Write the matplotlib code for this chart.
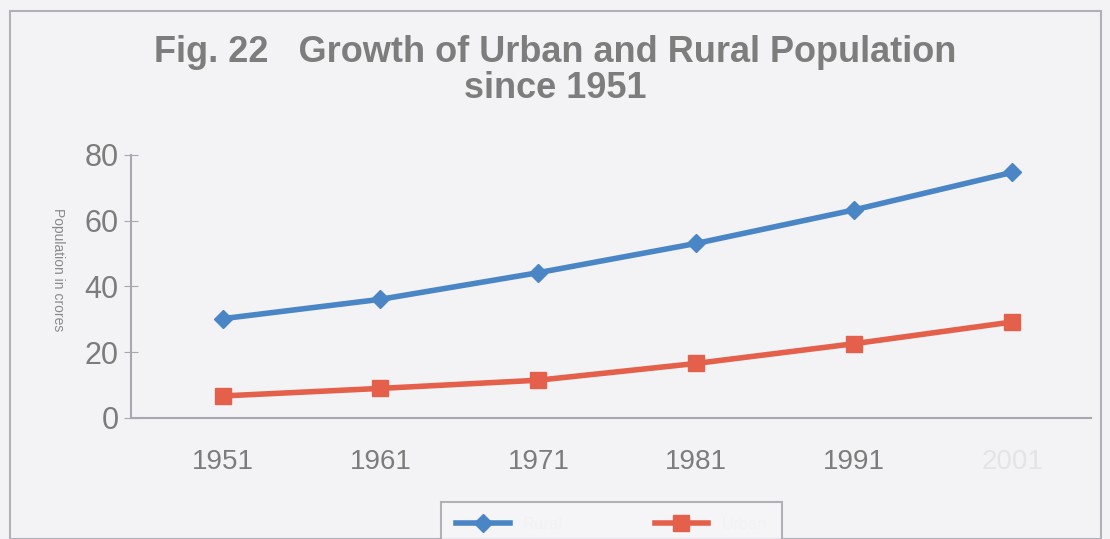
import matplotlib.pyplot as plt
from matplotlib.patches import Rectangle

years = ['1951', '1961', '1971', '1981', '1991', '2001']
rural = [30.2, 36.1, 44.2, 53.1, 63.3, 74.7]
urban = [6.7, 9.0, 11.5, 16.6, 22.6, 29.2]

plt.rcParams['font.family'] = ['Liberation Sans', 'DejaVu Sans']

fig = plt.figure(figsize=(11.1, 5.39), dpi=100, facecolor='#f3f3f5')
ax = fig.add_axes([0.118, 0.2245, 0.865, 0.488])
ax.set_facecolor('#f3f3f5')

x = list(range(len(years)))
ax.plot(x, rural, color='#4a85c6', lw=4, marker='D', ms=9, label='Rural')
ax.plot(x, urban, color='#e5604a', lw=4, marker='s', ms=12, label='Urban')

ax.set_xlim(-0.58, 5.5)
ax.set_ylim(0, 80)
ax.set_yticks([0, 20, 40, 60, 80])
ax.set_xticks(x)
ax.set_xticklabels(years)

for s in ['top', 'right']:
    ax.spines[s].set_visible(False)
for s in ['left', 'bottom']:
    ax.spines[s].set_color('#a8a8b0')
    ax.spines[s].set_linewidth(1.5)
ax.tick_params(axis='y', direction='inout', length=10, color='#a8a8b0',
               labelsize=22, labelcolor='#7c7c7c', pad=4)
ax.tick_params(axis='x', length=0, labelsize=20, labelcolor='#7c7c7c', pad=22)
# last label is almost faded out in the scan
ax.get_xticklabels()[-1].set_color('#e4e4e8')

fig.text(0.052, 0.50, 'Population in crores', rotation=270, fontsize=10,
         color='#8a8a8a', ha='center', va='center')

fig.suptitle('Fig. 22   Growth of Urban and Rural Population\nsince 1951',
             y=0.935, fontsize=26, fontweight='bold', color='#7d7d7d',
             linespacing=1.02)

leg = fig.legend(loc='lower left', bbox_to_anchor=(0.39, -0.03), ncol=2,
                 frameon=True, fontsize=12, handlelength=3.2,
                 columnspacing=5.5, borderpad=0.9, fancybox=False)
leg.get_frame().set_edgecolor('#a0a0a8')
leg.get_frame().set_linewidth(1.5)
leg.get_frame().set_facecolor('#f6f6f8')
for t in leg.get_texts():
    t.set_color('#f2f2f4')

fig.patches.append(Rectangle((0.009, 0.0), 0.983, 0.98, transform=fig.transFigure,
                             fill=False, edgecolor='#b0b0b8', lw=1.5))

fig.savefig('out.png', dpi=100, facecolor=fig.get_facecolor())
